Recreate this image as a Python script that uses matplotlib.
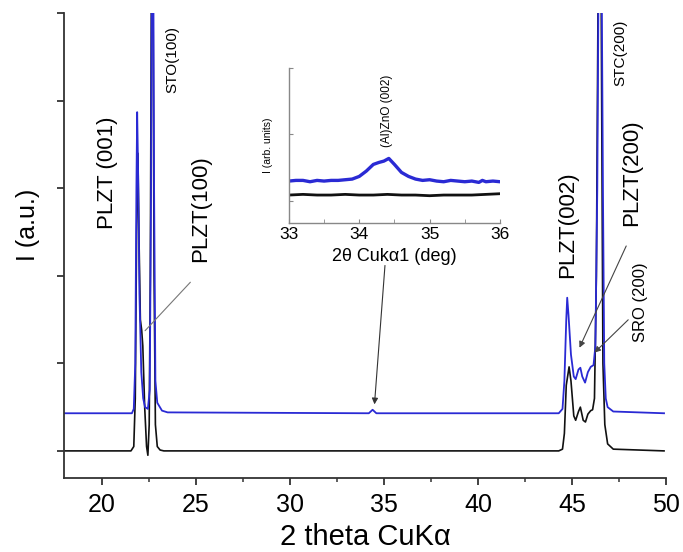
import numpy as np
import matplotlib.pyplot as plt

plt.rcParams['font.family'] = ['Liberation Sans', 'DejaVu Sans']

# traced XRD patterns (2theta [deg], intensity offset units)
black_x = [17.5, 21.55, 21.7, 21.78, 21.85, 21.92, 21.98, 22.05, 22.12, 22.18, 22.28, 22.38, 22.45,
           22.52, 22.58, 22.64, 22.72, 22.78, 22.85, 22.95, 23.1, 23.3,
           44.3, 44.5, 44.6, 44.7, 44.85, 44.95, 45.1, 45.2, 45.35, 45.45, 45.6, 45.72, 45.85, 46.0,
           46.1, 46.2, 46.3, 46.4, 46.55, 46.65, 46.75, 46.9, 47.2, 49.9]
black_y = [0.0, 0.0, 0.05, 0.6, 2.5, 3.40, 2.4, 1.5, 1.38, 1.2, 0.5, 0.05, -0.05,
           0.3, 2.0, 5.5, 5.5, 2.0, 0.3, 0.05, 0.01, 0.0,
           0.0, 0.02, 0.2, 0.75, 0.96, 0.8, 0.4, 0.35, 0.45, 0.5, 0.35, 0.33, 0.42, 0.46,
           0.47, 0.6, 2.0, 5.5, 5.5, 1.0, 0.3, 0.08, 0.02, 0.0]

blue_x = [18.0, 21.6, 21.7, 21.78, 21.84, 21.88, 21.93, 22.0, 22.1, 22.2, 22.3, 22.45, 22.55,
          22.62, 22.66, 22.74, 22.78, 22.85, 22.95, 23.2, 23.5,
          34.2, 34.4, 34.6,
          44.3, 44.5, 44.6, 44.7, 44.75, 44.82, 44.95, 45.1, 45.2, 45.35, 45.45, 45.55, 45.7, 45.85,
          46.0, 46.15, 46.25, 46.35, 46.42, 46.58, 46.65, 46.72, 46.8, 46.9, 47.2, 49.9]
blue_y = [0.43, 0.43, 0.48, 1.0, 3.0, 3.87, 3.2, 1.8, 0.9, 0.6, 0.5, 0.48, 0.7,
          3.0, 5.5, 5.5, 3.0, 0.8, 0.55, 0.46, 0.44,
          0.43, 0.47, 0.43,
          0.43, 0.48, 0.8, 1.5, 1.75, 1.55, 1.1, 0.85, 0.82, 0.93, 0.95, 0.85, 0.78, 0.9,
          0.96, 0.98, 1.2, 3.0, 5.5, 5.5, 3.0, 1.0, 0.6, 0.5, 0.45, 0.43]

# inset: (Al)ZnO (002) region
in_blue_x = [33.0, 33.1, 33.2, 33.3, 33.4, 33.5, 33.6, 33.7, 33.8, 33.9, 34.0, 34.1, 34.2, 34.28,
             34.35, 34.42, 34.5, 34.6, 34.7, 34.8, 34.9, 35.0, 35.1, 35.2, 35.3, 35.4, 35.5,
             35.6, 35.7, 35.75, 35.8, 35.9, 36.0]
in_blue_y = [1.30, 1.31, 1.31, 1.29, 1.31, 1.30, 1.31, 1.31, 1.32, 1.33, 1.37, 1.45, 1.55, 1.58,
             1.60, 1.64, 1.55, 1.43, 1.37, 1.33, 1.31, 1.32, 1.30, 1.29, 1.31, 1.30, 1.29,
             1.30, 1.28, 1.31, 1.29, 1.30, 1.29]
in_black_x = [33.0, 33.2, 33.4, 33.6, 33.8, 34.0, 34.2, 34.4, 34.6, 34.8, 35.0, 35.2, 35.4,
              35.6, 35.8, 36.0]
in_black_y = [1.09, 1.10, 1.09, 1.09, 1.10, 1.09, 1.09, 1.10, 1.09, 1.09, 1.08, 1.09, 1.09,
              1.09, 1.10, 1.11]

blue = "#2a2ad4"
blk = "#111111"
spine_c = "#333333"

fig = plt.figure(figsize=(6.83, 5.52), dpi=100)
ax = fig.add_axes([0.094, 0.134, 0.881, 0.842])

ax.plot(black_x, black_y, color=blk, lw=1.2)
ax.plot(blue_x, blue_y, color=blue, lw=1.3)

ax.set_xlim(18, 50)
ax.set_ylim(-0.31, 5.0)
ax.spines['top'].set_visible(False)
ax.spines['right'].set_visible(False)
for s in ['left', 'bottom']:
    ax.spines[s].set_color(spine_c)
    ax.spines[s].set_linewidth(1.3)
ax.set_xticks([20, 25, 30, 35, 40, 45, 50])
ax.set_xticks(np.arange(22.5, 50, 5), minor=True)
ax.set_yticks([0, 1, 2, 3, 4, 5])
ax.set_yticklabels([])
ax.tick_params(axis='both', which='major', direction='out', length=5, width=1.3, color=spine_c)
ax.tick_params(axis='x', which='minor', direction='out', length=3, width=1.1, color=spine_c)
ax.tick_params(axis='x', labelsize=18, pad=6)
ax.set_xlabel("2 theta CuK\u03b1", fontsize=21, labelpad=4)
ax.set_ylabel("I (a.u.)", fontsize=18)
ax.yaxis.set_label_coords(-0.04, 0.544)

# peak labels
ax.text(20.29, 3.18, "PLZT (001)", rotation=90, ha='center', va='center', fontsize=16)
ax.text(25.23, 2.77, "PLZT(100)", rotation=90, ha='center', va='center', fontsize=16)
ax.text(23.74, 4.47, "STO(100)", rotation=90, ha='center', va='center', fontsize=11)
ax.text(44.76, 2.58, "PLZT(002)", rotation=90, ha='center', va='center', fontsize=16)
ax.text(48.2, 3.18, "PLZT(200)", rotation=90, ha='center', va='center', fontsize=16)
ax.text(47.57, 4.55, "STC(200)", rotation=90, ha='center', va='center', fontsize=11)
ax.text(48.64, 1.70, "SRO (200)", rotation=90, ha='center', va='center', fontsize=12)

ax.annotate("", xy=(22.2, 1.35), xytext=(24.81, 1.95),
            arrowprops=dict(arrowstyle='-', color='#777777', lw=0.8))
ax.annotate("", xy=(45.34, 1.15), xytext=(47.95, 2.37),
            arrowprops=dict(arrowstyle='-|>', color='#444444', lw=0.8, mutation_scale=9))
ax.annotate("", xy=(46.09, 1.10), xytext=(48.1, 1.52),
            arrowprops=dict(arrowstyle='-|>', color='#444444', lw=0.8, mutation_scale=9))
ax.annotate("", xy=(34.49, 0.50), xytext=(35.07, 2.15),
            arrowprops=dict(arrowstyle='-|>', color='#333333', lw=0.8, mutation_scale=9))

# inset
ins = fig.add_axes([0.423, 0.596, 0.309, 0.281])
ins.plot(in_black_x, in_black_y, color=blk, lw=2.0)
ins.plot(in_blue_x, in_blue_y, color=blue, lw=2.4)
ins.set_xlim(33, 36)
ins.set_ylim(0.67, 3.0)
ins.spines['top'].set_visible(False)
ins.spines['right'].set_visible(False)
for s in ['left', 'bottom']:
    ins.spines[s].set_color('#888888')
    ins.spines[s].set_linewidth(1.0)
ins.set_xticks([33, 34, 35, 36])
ins.set_xticks([33.5, 34.5, 35.5], minor=True)
ins.set_yticks([1, 2, 3])
ins.set_yticklabels([])
ins.tick_params(axis='both', which='both', direction='in', length=3, color='#888888')
ins.tick_params(axis='x', labelsize=12.5, pad=3)
ins.set_xlabel("2\u03b8 Cuk\u03b11 (deg)", fontsize=13, labelpad=4)
ins.set_ylabel("I (arb. units)", fontsize=7.5, labelpad=8)
ins.text(34.39, 2.35, "(Al)ZnO (002)", rotation=90, ha='center', va='center', fontsize=8.5)
ins.patch.set_alpha(0)

fig.savefig("out.png", dpi=100)
